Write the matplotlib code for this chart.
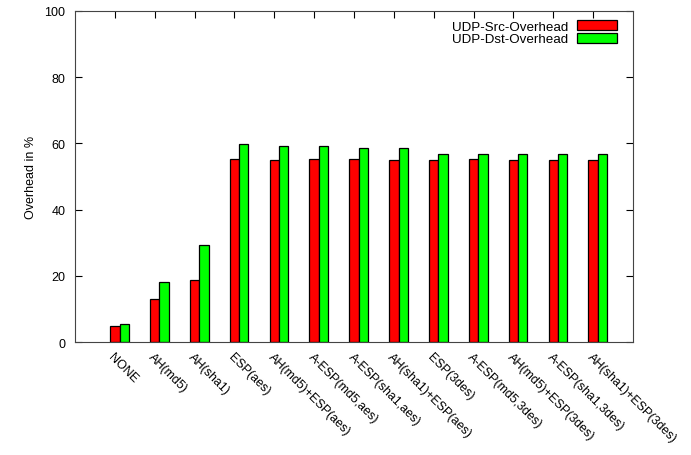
import numpy as np
import matplotlib
matplotlib.use("Agg")
import matplotlib.pyplot as plt

plt.rcParams['font.family'] = ['Liberation Sans', 'DejaVu Sans']

categories = ['NONE', 'AH(md5)', 'AH(sha1)', 'ESP(aes)', 'AH(md5)+ESP(aes)',
              'A-ESP(md5,aes)', 'A-ESP(sha1,aes)', 'AH(sha1)+ESP(aes)',
              'ESP(3des)', 'A-ESP(md5,3des)', 'AH(md5)+ESP(3des)',
              'A-ESP(sha1,3des)', 'AH(sha1)+ESP(3des)']
src_overhead = [4.7, 13.1, 18.7, 55.4, 55.1, 55.4, 55.4, 55.1, 55.1, 55.4, 55.1, 55.1, 55.1]
dst_overhead = [5.3, 18.1, 29.2, 59.9, 59.3, 59.3, 58.7, 58.7, 56.8, 56.8, 56.8, 56.8, 56.8]

fig = plt.figure(figsize=(6.91, 4.56), dpi=100)
ax = fig.add_axes([0.1085, 0.2478, 0.8075, 0.7259])

x = np.arange(len(categories))
w = 0.235
ax.bar(x, src_overhead, w, color='#ff0000', edgecolor='black',
       linewidth=0.9, label='UDP-Src-Overhead')
ax.bar(x + w, dst_overhead, w, color='#00ff00', edgecolor='black',
       linewidth=0.9, label='UDP-Dst-Overhead')

ax.set_xlim(-1, 13)
ax.set_ylim(0, 100)
ax.set_yticks([0, 20, 40, 60, 80, 100])
ax.set_xticks(x)
ax.set_xticklabels(categories, rotation=-45, ha='left', va='top',
                   rotation_mode='anchor', fontsize=9)
ax.tick_params(direction='in', top=True, right=True, length=5, labelsize=9)
ax.tick_params(axis='y', pad=7)
ax.tick_params(axis='x', bottom=False, pad=6)
for s in ax.spines.values():
    s.set_color('#444444')

ax.set_ylabel('Overhead in %', fontsize=9, labelpad=5)

ax.legend(loc='upper right', bbox_to_anchor=(0.9875, 1.0), frameon=False,
          markerfirst=False, fontsize=9.6,
          handlelength=3.0, handleheight=0.75, labelspacing=0.0,
          borderaxespad=0.3, handletextpad=0.65)

fig.savefig('out.png')
